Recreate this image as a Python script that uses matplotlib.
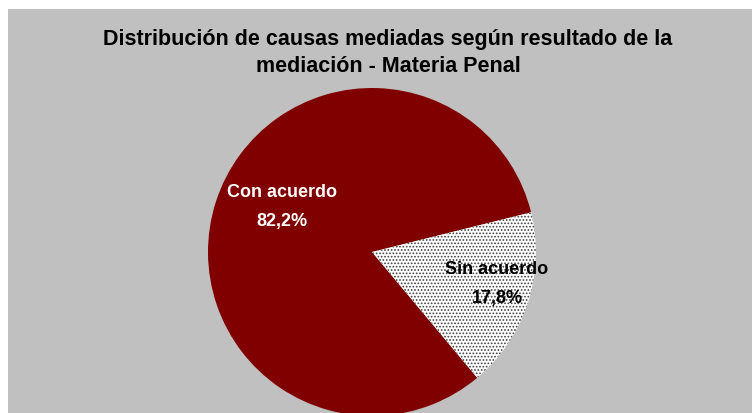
import matplotlib
matplotlib.use('Agg')
import matplotlib.pyplot as plt
from matplotlib.patches import Rectangle

labels = ['Con acuerdo', 'Sin acuerdo']
values = [82.2, 17.8]
pct_text = ['82,2%', '17,8%']

plt.rcParams['font.family'] = ['Liberation Sans', 'DejaVu Sans']
plt.rcParams['hatch.linewidth'] = 0.8

W, H = 753, 414
fig = plt.figure(figsize=(W / 100, H / 100), dpi=100, facecolor='white')

# gray chart area with thin white margin left/top
fig.patches.append(Rectangle((8 / W, 0), (W - 9) / W, (H - 10) / H,
                             transform=fig.transFigure, facecolor='#C0C0C0',
                             edgecolor='none', zorder=-10))

cx, cy, r = 372, 253, 164
ax = fig.add_axes([(cx - r) / W, (H - cy - r) / H, 2 * r / W, 2 * r / H])
ax.set_facecolor('none')
ax.axis('off')

wedges, _ = ax.pie(values, startangle=14, counterclock=True,
                   colors=['#800000', 'white'],
                   wedgeprops=dict(linewidth=0))
wedges[1].set_hatch('.....')
wedges[1].set_edgecolor('#404040')
wedges[1].set_linewidth(0)
ax.set_xlim(-1, 1)
ax.set_ylim(-1, 1)
ax.set_aspect('equal')

ax.text(-0.55, 0.28, labels[0] + '\n' + pct_text[0], color='white',
        fontsize=13, fontweight='bold', ha='center', va='center', linespacing=1.95)
ax.text(0.762, -0.19, labels[1] + '\n' + pct_text[1], color='black',
        fontsize=13, fontweight='bold', ha='center', va='center', linespacing=1.95)

fig.text(388 / W, 1 - 53 / H,
         'Distribución de causas mediadas según resultado de la\nmediación - Materia Penal',
         ha='center', va='center', fontsize=15.5, fontweight='bold', linespacing=1.38)

fig.savefig('out.png', dpi=100, facecolor='white')
